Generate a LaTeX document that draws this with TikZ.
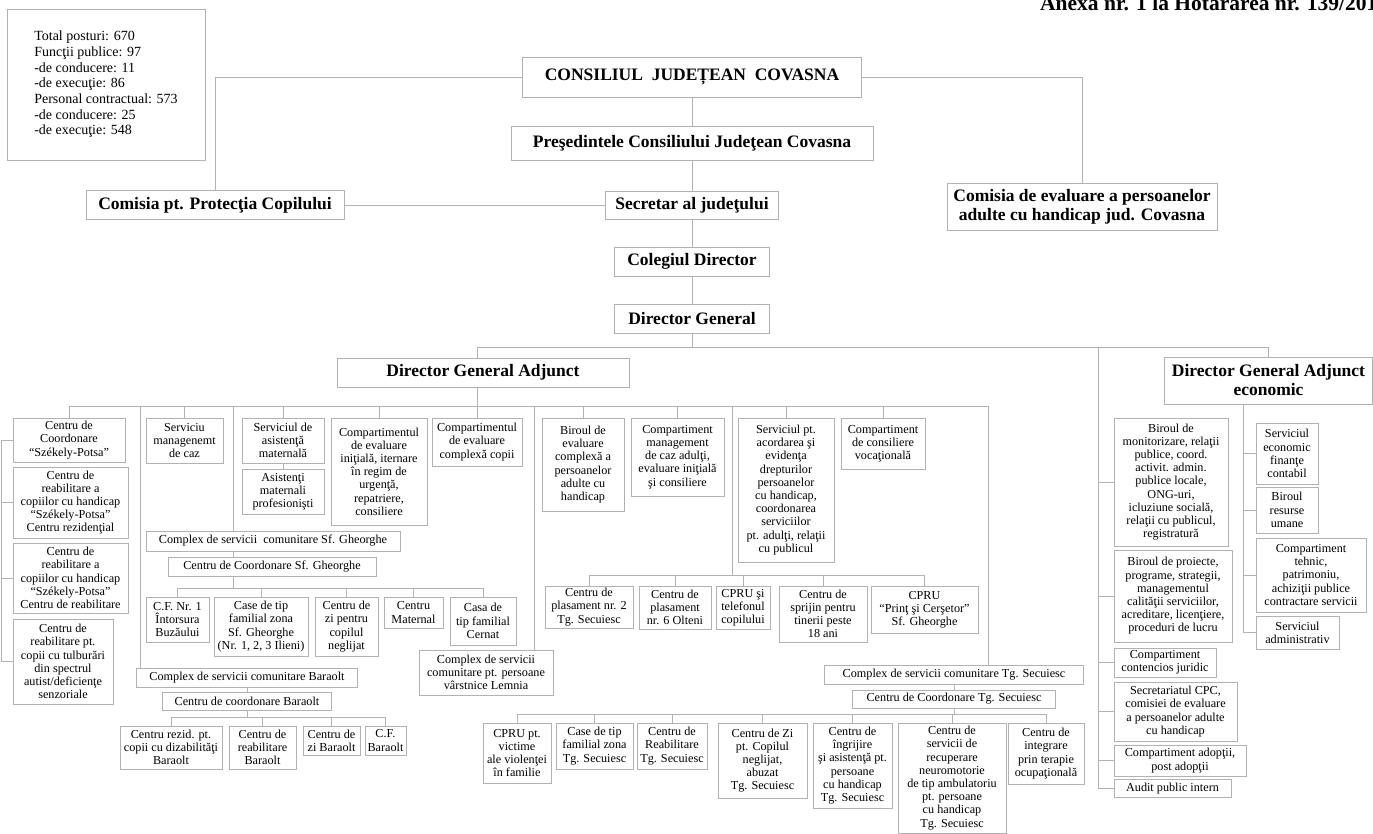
\documentclass[tikz,border=0pt]{standalone}
\usepackage{fontspec}
\setmainfont{Liberation Serif}
\usepackage{tikz}

\tikzset{
  orgbox/.style={rectangle, draw=black!30, line width=0.9pt, align=center, inner sep=1.5pt, font=\fontsize{12.2}{13.2}\selectfont},
  headbox/.style={rectangle, draw=black!30, line width=0.9pt, align=center, inner sep=2pt, font=\bfseries\fontsize{17.5}{19}\selectfont},
  wire/.style={draw=black!30, line width=0.9pt}
}

\begin{document}
\begin{tikzpicture}[x=1pt, y=-1pt]
\useasboundingbox (0,0) rectangle (1373,834);

% top of the chart
\node (anexa) [anchor=base west, inner sep=0pt, font=\bfseries\fontsize{21.5}{24}\selectfont] at (1040,11) {Anexa nr. 1 la Hotărârea nr. 139/201};
\node (stats) [orgbox, align=left, minimum width=198pt, minimum height=151pt, font=\fontsize{14}{15.7}\selectfont] at (106,84.5) {Total posturi: 670\\Funcţii publice: 97\\-de conducere: 11\\-de execuţie: 86\\Personal contractual: 573\\-de conducere: 25\\-de execuţie: 548};
\node (cjc) [headbox, minimum width=339pt, minimum height=40pt] at (692,77) {CONSILIUL~ JUDEȚEAN~ COVASNA};
\node (pres) [headbox, minimum width=362pt, minimum height=34pt] at (692,143) {Preşedintele Consiliului Judeţean Covasna};
\node (cpc) [headbox, minimum width=258pt, minimum height=29pt] at (215,205) {Comisia pt. Protecţia Copilului};
\node (sec) [headbox, minimum width=173pt, minimum height=28pt] at (692,205) {Secretar al judeţului};
\node (cee) [headbox, minimum width=270pt, minimum height=47pt] at (1082,206.5) {Comisia de evaluare a persoanelor\\adulte cu handicap jud. Covasna};
\node (col) [headbox, minimum width=155pt, minimum height=29pt] at (692,261.5) {Colegiul Director};
\node (dg) [headbox, minimum width=155pt, minimum height=29pt] at (692,318.5) {Director General};
\node (dga) [headbox, minimum width=292pt, minimum height=29pt] at (483,372.5) {Director General Adjunct};
\node (dgae) [headbox, minimum width=208pt, minimum height=47pt] at (1268.5,380.5) {Director General Adjunct\\economic};

% first row under the deputy director
\node (szk1) [orgbox, minimum width=112pt, minimum height=44pt] at (69,440) {Centru de\\Coordonare\\``Székely-Potsa''};
\node (szk2) [orgbox, minimum width=115pt, minimum height=71pt] at (70.5,502.5) {Centru de\\reabilitare a\\copiilor cu handicap\\``Székely-Potsa''\\Centru rezidenţial};
\node (szk3) [orgbox, minimum width=115pt, minimum height=70pt] at (70.5,578) {Centru de\\reabilitare a\\copiilor cu handicap\\``Székely-Potsa''\\Centru de reabilitare};
\node (szk4) [orgbox, minimum width=100pt, minimum height=85pt] at (63,661.5) {Centru de\\reabilitare pt.\\copii cu tulburări\\din spectrul\\autist/deficienţe\\senzoriale};
\node (smc) [orgbox, minimum width=77pt, minimum height=45pt] at (184.5,440.5) {Serviciu\\managenemt\\de caz};
\node (sam) [orgbox, minimum width=82pt, minimum height=45pt] at (283,440.5) {Serviciul de\\asistenţă\\maternală};
\node (amp) [orgbox, minimum width=82pt, minimum height=45pt] at (283,491.5) {Asistenţi\\maternali\\profesionişti};
\node (cei) [orgbox, minimum width=96pt, minimum height=107pt] at (379,471.5) {Compartimentul\\de evaluare\\iniţială, iternare\\în regim de\\urgenţă,\\repatriere,\\consiliere};
\node (cec) [orgbox, minimum width=90pt, minimum height=48pt] at (477,442) {Compartimentul\\de evaluare\\complexă copii};
\node (bec) [orgbox, minimum width=82pt, minimum height=93pt] at (583,464.5) {Biroul de\\evaluare\\complexă a\\persoanelor\\adulte cu\\handicap};
\node (cma) [orgbox, minimum width=93pt, minimum height=78pt] at (677.5,457) {Compartiment\\management\\de caz adulţi,\\evaluare iniţială\\şi consiliere};
\node (sad) [orgbox, minimum width=96pt, minimum height=144pt] at (786,490) {Serviciul pt.\\acordarea şi\\evidenţa\\drepturilor\\persoanelor\\cu handicap,\\coordonarea\\serviciilor\\pt. adulţi, relaţii\\cu publicul};
\node (ccv) [orgbox, minimum width=84pt, minimum height=51pt] at (883,443.5) {Compartiment\\de consiliere\\vocaţională};

% Sf. Gheorghe
\node (csg) [orgbox, minimum width=254pt, minimum height=20pt] at (273,541) {Complex de servicii\ \ comunitare Sf. Gheorghe};
\node (ccsg) [orgbox, minimum width=208pt, minimum height=19pt] at (272,566.5) {Centru de Coordonare Sf. Gheorghe};
\node (cf1) [orgbox, minimum width=63pt, minimum height=45pt] at (177.5,619.5) {C.F. Nr. 1\\Întorsura\\Buzăului};
\node (ctf) [orgbox, inner xsep=0.5pt, minimum width=94pt, minimum height=59pt] at (261,626.5) {Case de tip\\familial zona\\Sf. Gheorghe\\(Nr. 1, 2, 3 Ilieni)};
\node (czc) [orgbox, minimum width=63pt, minimum height=59pt] at (346.5,626.5) {Centru de\\zi pentru\\copilul\\neglijat};
\node (cmat) [orgbox, minimum width=59pt, minimum height=31pt] at (413.5,612.5) {Centru\\Maternal};
\node (ccer) [orgbox, minimum width=66pt, minimum height=48pt] at (483,621) {Casa de\\tip familial\\Cernat};

% Baraolt
\node (cbar) [orgbox, minimum width=221pt, minimum height=19pt] at (247,678) {Complex de servicii comunitare Baraolt};
\node (ccbar) [orgbox, minimum width=169pt, minimum height=18pt] at (247,701) {Centru de coordonare Baraolt};
\node (crb) [orgbox, minimum width=102pt, minimum height=43pt] at (171,747.5) {Centru rezid. pt.\\copii cu dizabilităţi\\Baraolt};
\node (creb) [orgbox, minimum width=67pt, minimum height=43pt] at (262.5,747.5) {Centru de\\reabilitare\\Baraolt};
\node (czb) [orgbox, minimum width=57pt, minimum height=29pt] at (331.5,740.5) {Centru de\\zi Baraolt};
\node (cfb) [orgbox, minimum width=41pt, minimum height=29pt] at (385.5,740.5) {C.F.\\Baraolt};
\node (clem) [orgbox, minimum width=134pt, minimum height=45pt] at (486,672.5) {Complex de servicii\\comunitare pt. persoane\\vârstnice Lemnia};

% adults
\node (cp2) [orgbox, minimum width=88pt, minimum height=42pt] at (589,607) {Centru de\\plasament nr. 2\\Tg. Secuiesc};
\node (cp6) [orgbox, minimum width=72pt, minimum height=43pt] at (675,607.5) {Centru de\\plasament\\nr. 6 Olteni};
\node (cprt) [orgbox, minimum width=54pt, minimum height=43pt] at (743,607.5) {CPRU şi\\telefonul\\copilului};
\node (csp) [orgbox, minimum width=88pt, minimum height=56pt] at (823,614) {Centru de\\sprijin pentru\\tinerii peste\\18 ani};
\node (cprp) [orgbox, minimum width=107pt, minimum height=47pt] at (924.5,609.5) {CPRU\\``Prinţ şi Cerşetor''\\Sf. Gheorghe};

% Tg. Secuiesc
\node (cts) [orgbox, minimum width=259pt, minimum height=19pt] at (954,674.5) {Complex de servicii comunitare Tg. Secuiesc};
\node (ccts) [orgbox, minimum width=203pt, minimum height=18pt] at (954,699) {Centru de Coordonare Tg. Secuiesc};
\node (cprv) [orgbox, minimum width=68pt, minimum height=60pt] at (517,753) {CPRU pt.\\victime\\ale violenţei\\în familie};
\node (ctft) [orgbox, minimum width=77pt, minimum height=46pt] at (594.5,746) {Case de tip\\familial zona\\Tg. Secuiesc};
\node (crt) [orgbox, minimum width=70pt, minimum height=46pt] at (672,746) {Centru de\\Reabilitare\\Tg. Secuiesc};
\node (czt) [orgbox, minimum width=89pt, minimum height=75pt] at (762.5,760.5) {Centru de Zi\\pt. Copilul\\neglijat,\\abuzat\\Tg. Secuiesc};
\node (cia) [orgbox, minimum width=79pt, minimum height=85pt] at (852.5,765.5) {Centru de\\îngrijire\\şi asistenţă pt.\\persoane\\cu handicap\\Tg. Secuiesc};
\node (crn) [orgbox, minimum width=108pt, minimum height=110pt] at (952,778) {Centru de\\servicii de\\recuperare\\neuromotorie\\de tip ambulatoriu\\pt. persoane\\cu handicap\\Tg. Secuiesc};
\node (cit) [orgbox, minimum width=76pt, minimum height=61pt] at (1046,753.5) {Centru de\\integrare\\prin terapie\\ocupaţională};

% economic side
\node (bmr) [orgbox, minimum width=114pt, minimum height=128pt] at (1171,482) {Biroul de\\monitorizare, relaţii\\publice, coord.\\activit. admin.\\publice locale,\\ONG-uri,\\icluziune socială,\\relaţii cu publicul,\\registratură};
\node (bpp) [orgbox, minimum width=118pt, minimum height=92pt] at (1173,596) {Biroul de proiecte,\\programe, strategii,\\managementul\\calităţii serviciilor,\\acreditare, licenţiere,\\proceduri de lucru};
\node (ccj) [orgbox, minimum width=102pt, minimum height=29pt] at (1165,662.5) {Compartiment\\contencios juridic};
\node (scpc) [orgbox, minimum width=123pt, minimum height=59pt] at (1175.5,711.5) {Secretariatul CPC,\\comisiei de evaluare\\a persoanelor adulte\\cu handicap};
\node (cad) [orgbox, minimum width=132pt, minimum height=31pt] at (1180,760.5) {Compartiment adopţii,\\post adopţii};
\node (api) [orgbox, minimum width=117pt, minimum height=18pt] at (1172.5,788.5) {Audit public intern};
\node (sef) [orgbox, minimum width=62pt, minimum height=61pt] at (1287,453.5) {Serviciul\\economic\\finanţe\\contabil};
\node (bru) [orgbox, minimum width=62pt, minimum height=46pt] at (1287,510) {Biroul\\resurse\\umane};
\node (cth) [orgbox, minimum width=110pt, minimum height=74pt] at (1311,575) {Compartiment\\tehnic,\\patrimoniu,\\achiziţii publice\\contractare servicii};
\node (sadm) [orgbox, minimum width=83pt, minimum height=33pt] at (1297.5,632.5) {Serviciul\\administrativ};

% taps and bars
\coordinate (dgatap) at (477,347);
\coordinate (ecotap) at (1098,347);
\coordinate (eco2) at (1243,404);
\coordinate (barA) at (0,406);
\coordinate (tapB) at (140,406);
\coordinate (tapS) at (233,406);
\coordinate (tapL) at (534,406);
\coordinate (tapP) at (732,406);
\coordinate (tapT) at (988,406);
\coordinate (barB) at (0,588);
\coordinate (barC) at (0,717);
\coordinate (barD) at (0,575);
\coordinate (barE) at (0,714);
\coordinate (lsp) at (1.5,0);

\draw[wire] (cjc.west) -| (cpc.north);
\draw[wire] (cjc.east) -| (cee.north);
\draw[wire] (cjc) -- (pres);
\draw[wire] (pres) -- (sec);
\draw[wire] (cpc) -- (sec);
\draw[wire] (sec) -- (col);
\draw[wire] (col) -- (dg);
\draw[wire] (dg.south) -- (dg.south |- dgatap);
\draw[wire] (dgatap) -| (dgae.north);
\draw[wire] (dgatap) -- (dgatap |- dga.north);
\draw[wire] (dga.south -| dgatap) -- (dgatap |- barA);

\draw[wire] (szk1.north |- barA) -- (tapT);
\foreach \n in {szk1, smc, sam, cei, cec, bec, cma, sad, ccv}
  \draw[wire] (\n.north) -- (\n.north |- barA);
\draw[wire] (sam) -- (amp);
\draw[wire] (szk1.west) -- (szk1.west -| lsp) -- (szk4.west -| lsp) -- (szk4.west);
\draw[wire] (szk2.west) -- (szk2.west -| lsp);
\draw[wire] (szk3.west) -- (szk3.west -| lsp);

\draw[wire] (tapS) -- (tapS |- csg.north);
\draw[wire] (csg.south -| tapS) -- (ccsg.north -| tapS);
\draw[wire] (ccsg.south -| tapS) -- (tapS |- barB);
\draw[wire] (cf1.north |- barB) -- (ccer.north |- barB);
\foreach \n in {cf1, ctf, czc, cmat, ccer}
  \draw[wire] (\n.north) -- (\n.north |- barB);

\draw[wire] (tapB) -- (tapB |- cbar.north);
\draw[wire] (cbar) -- (ccbar);
\draw[wire] (ccbar.south) -- (ccbar.south |- barC);
\draw[wire] (crb.north |- barC) -- (cfb.north |- barC);
\foreach \n in {crb, creb, czb, cfb}
  \draw[wire] (\n.north) -- (\n.north |- barC);

\draw[wire] (tapL) -- (tapL |- clem.north);

\draw[wire] (tapP) -- (tapP |- barD);
\draw[wire] (cp2.north |- barD) -- (cprp.north |- barD);
\foreach \n in {cp2, cp6, cprt, csp, cprp}
  \draw[wire] (\n.north) -- (\n.north |- barD);

\draw[wire] (tapT) -- (tapT |- cts.north);
\draw[wire] (cts) -- (ccts);
\draw[wire] (ccts.south) -- (ccts.south |- barE);
\draw[wire] (cprv.north |- barE) -- (cit.north |- barE);
\foreach \n in {cprv, ctft, crt, czt, cia, crn, cit}
  \draw[wire] (\n.north) -- (\n.north |- barE);

\draw[wire] (ecotap) |- (api.west);
\foreach \n in {bmr, bpp, ccj, scpc, cad}
  \draw[wire] (\n.west) -- (\n.west -| ecotap);
\draw[wire] (eco2) |- (sadm.west);
\foreach \n in {sef, bru, cth}
  \draw[wire] (\n.west) -- (\n.west -| eco2);
\end{tikzpicture}
\end{document}
